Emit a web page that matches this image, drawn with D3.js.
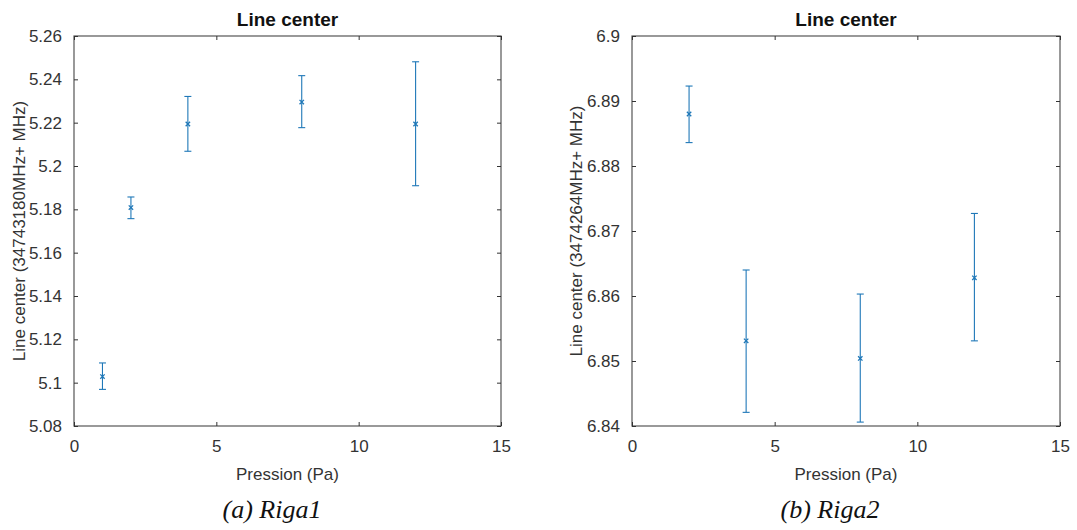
<!DOCTYPE html>
<html>
<head>
<meta charset="utf-8">
<script src="https://cdn.jsdelivr.net/npm/d3@7"></script>
<style>
  html, body { margin: 0; padding: 0; background: #fff; }
  svg { display: block; }
</style>
</head>
<body>
<svg id="chart" width="1077" height="530"></svg>
<script>
// Pressure values (Pa) for each measurement run
const pressureRiga1 = [1, 2, 4, 8, 12];
const centerRiga1   = [5.1028, 5.1808, 5.2194, 5.2295, 5.2194];
const lowRiga1      = [5.0969, 5.1757, 5.2068, 5.2177, 5.1909];
const highRiga1     = [5.1091, 5.1857, 5.2321, 5.2417, 5.2481];

const pressureRiga2 = [2, 4, 8, 12];
const centerRiga2   = [6.8880, 6.8531, 6.8504, 6.8628];
const lowRiga2      = [6.8836, 6.8421, 6.8406, 6.8531];
const highRiga2     = [6.8923, 6.8640, 6.8603, 6.8727];

const xTicks      = [0, 5, 10, 15];
const yTicksRiga1 = [5.08, 5.1, 5.12, 5.14, 5.16, 5.18, 5.2, 5.22, 5.24, 5.26];
const yTicksRiga2 = [6.84, 6.85, 6.86, 6.87, 6.88, 6.89, 6.9];

const titleText  = "Line center";
const xLabelText = "Pression (Pa)";
const yLabelRiga1 = "Line center (34743180MHz+ MHz)";
const yLabelRiga2 = "Line center (3474264MHz+ MHz)";
const captionRiga1 = "(a) Riga1";
const captionRiga2 = "(b) Riga2";

const svg = d3.select("#chart");
const SERIES = "#1f78b8";
const AXIS = "#555555";
const TEXT = "#333333";
const FONT = "'Liberation Sans', Arial, Helvetica, sans-serif";

function drawPanel(cfg) {
  const { left, right, top, bottom, xs, ys, lo, hi, yTicks, yDomain, yLabel, yLabelX, caption, captionX } = cfg;
  const x = d3.scaleLinear().domain([0, 15]).range([left, right]);
  const y = d3.scaleLinear().domain(yDomain).range([bottom, top]);
  const g = svg.append("g");

  // box
  g.append("rect")
    .attr("x", left).attr("y", top)
    .attr("width", right - left).attr("height", bottom - top)
    .attr("fill", "none").attr("stroke", AXIS).attr("stroke-width", 1.2);

  const fmt = d => String(+d.toFixed(4));

  // bottom axis: inward ticks, labels below
  const xAxis = d3.axisBottom(x).tickValues(xTicks).tickFormat(fmt)
    .tickSizeInner(-4).tickSizeOuter(0).tickPadding(14);
  const gx = g.append("g").attr("transform", `translate(0,${bottom})`).call(xAxis);
  // left axis
  const yAxis = d3.axisLeft(y).tickValues(yTicks).tickFormat(fmt)
    .tickSizeInner(-4).tickSizeOuter(0).tickPadding(12);
  const gy = g.append("g").attr("transform", `translate(${left},0)`).call(yAxis);
  // mirrored top and right ticks
  const gt = g.append("g").attr("transform", `translate(0,${top})`)
    .call(d3.axisTop(x).tickValues(xTicks).tickFormat("").tickSizeInner(-4).tickSizeOuter(0));
  const gr = g.append("g").attr("transform", `translate(${right},0)`)
    .call(d3.axisRight(y).tickValues(yTicks).tickFormat("").tickSizeInner(-4).tickSizeOuter(0));

  [gx, gy, gt, gr].forEach(a => {
    a.select(".domain").remove();
    a.selectAll(".tick line").attr("stroke", "#333").attr("stroke-width", 1);
    a.selectAll(".tick text").attr("fill", TEXT)
      .style("font-family", FONT).style("font-size", "17px");
  });

  // error bars
  const bars = g.append("g").attr("stroke", SERIES).attr("stroke-width", 1.1).attr("fill", "none");
  xs.forEach((xv, i) => {
    const cx = x(xv);
    bars.append("line").attr("x1", cx).attr("x2", cx).attr("y1", y(lo[i])).attr("y2", y(hi[i]));
    bars.append("line").attr("x1", cx - 3.5).attr("x2", cx + 3.5).attr("y1", y(lo[i])).attr("y2", y(lo[i]));
    bars.append("line").attr("x1", cx - 3.5).attr("x2", cx + 3.5).attr("y1", y(hi[i])).attr("y2", y(hi[i]));
  });
  // cross markers at line center
  const s = 2.2;
  xs.forEach((xv, i) => {
    const cx = x(xv), cy = y(ys[i]);
    bars.append("path")
      .attr("d", `M${cx - s},${cy - s}L${cx + s},${cy + s}M${cx - s},${cy + s}L${cx + s},${cy - s}`)
      .attr("stroke-width", 1.3);
  });

  const mid = (left + right) / 2;
  g.append("text").attr("x", mid).attr("y", 26)
    .attr("text-anchor", "middle").attr("fill", "#111")
    .style("font-family", FONT).style("font-size", "19px").style("font-weight", "bold")
    .text(titleText);

  g.append("text").attr("x", mid).attr("y", 480)
    .attr("text-anchor", "middle").attr("fill", TEXT)
    .style("font-family", FONT).style("font-size", "17px")
    .text(xLabelText);

  g.append("text")
    .attr("transform", `translate(${yLabelX},${(top + bottom) / 2}) rotate(-90)`)
    .attr("text-anchor", "middle").attr("fill", TEXT)
    .style("font-family", FONT).style("font-size", "17px")
    .text(yLabel);

  g.append("text").attr("x", captionX).attr("y", 518)
    .attr("text-anchor", "middle").attr("fill", "#111")
    .style("font-family", "'Liberation Serif', 'DejaVu Serif', serif")
    .style("font-style", "italic").style("font-size", "26px")
    .text(caption);
}

drawPanel({
  left: 74, right: 501, top: 36, bottom: 426,
  xs: pressureRiga1, ys: centerRiga1, lo: lowRiga1, hi: highRiga1,
  yTicks: yTicksRiga1, yDomain: [5.08, 5.26],
  yLabel: yLabelRiga1, yLabelX: 25, caption: captionRiga1, captionX: 272
});

drawPanel({
  left: 632, right: 1060, top: 36, bottom: 426,
  xs: pressureRiga2, ys: centerRiga2, lo: lowRiga2, hi: highRiga2,
  yTicks: yTicksRiga2, yDomain: [6.84, 6.9],
  yLabel: yLabelRiga2, yLabelX: 582, caption: captionRiga2, captionX: 830
});
</script>
</body>
</html>
